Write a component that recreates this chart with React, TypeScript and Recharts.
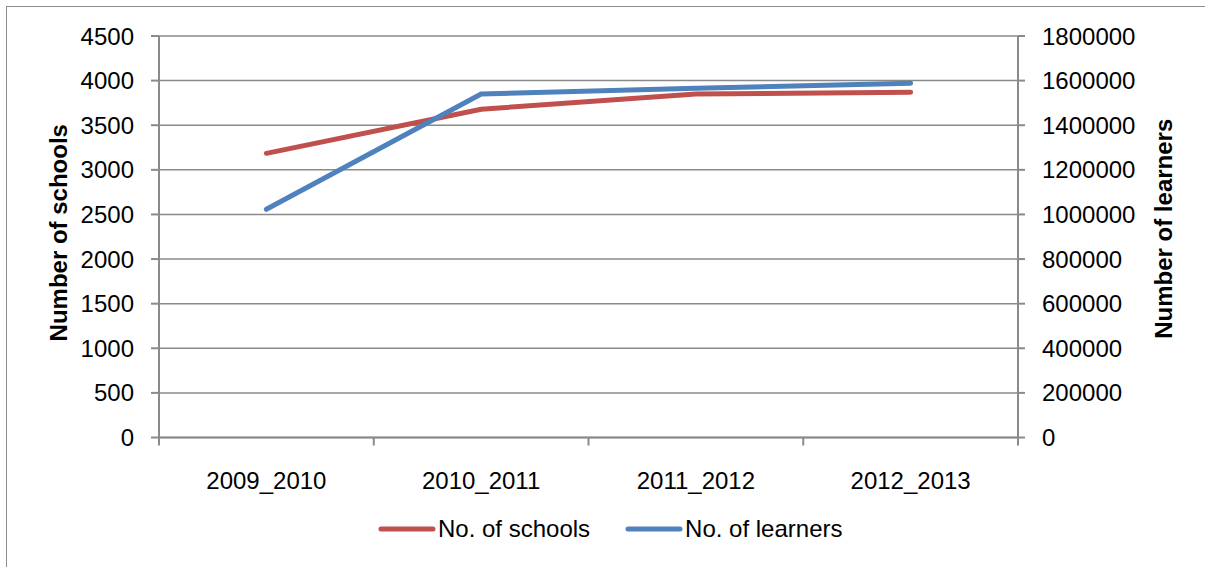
import React from 'react';
import { LineChart, Line, XAxis, YAxis, CartesianGrid, Legend } from 'recharts';

const categories = ['2009_2010', '2010_2011', '2011_2012', '2012_2013'];
const schools = [3185, 3679, 3850, 3869];
const learners = [1023000, 1540000, 1565500, 1588000];
const leftTicks = [0, 500, 1000, 1500, 2000, 2500, 3000, 3500, 4000, 4500];
const rightTicks = [0, 200000, 400000, 600000, 800000, 1000000, 1200000, 1400000, 1600000, 1800000];
const schoolsName = 'No. of schools';
const learnersName = 'No. of learners';
const legendOrder = [schoolsName, learnersName];
const leftTitle = 'Number of schools';
const rightTitle = 'Number of learners';

const data = categories.map((c, i) => ({ cat: c, schools: schools[i], learners: learners[i] }));

const W = 1205;
const H = 567;
const LEFT_W = 159;
const RIGHT_W = 187;
const PLOT_W = W - LEFT_W - RIGHT_W;
const BAND = PLOT_W / categories.length;
const FONT = '"Liberation Sans", Arial, sans-serif';
const GRAY = '#8a8a8a';
const RED = '#C0504D';
const BLUE = '#4F81BD';

const XTick = (props: any) => {
  const { x, y, payload, index } = props;
  const isLast = index === categories.length - 1;
  return (
    <g>
      <line x1={x - BAND / 2} x2={x - BAND / 2} y1={y} y2={y + 8} stroke={GRAY} strokeWidth={2} />
      {isLast && <line x1={x + BAND / 2} x2={x + BAND / 2} y1={y} y2={y + 8} stroke={GRAY} strokeWidth={2} />}
      <text x={x} y={y + 51} textAnchor="middle" fill="#000" fontSize={24} fontFamily={FONT}>
        {payload.value}
      </text>
    </g>
  );
};

const LegendContent = (props: any) => {
  const payload = [...(props.payload || [])].sort(
    (a: any, b: any) => legendOrder.indexOf(a.value) - legendOrder.indexOf(b.value)
  );
  return (
    <div style={{ display: 'flex', alignItems: 'center', paddingLeft: 378, height: 40, fontFamily: FONT, fontSize: 24, color: '#000' }}>
      {payload.map((p: any, i: number) => (
        <div key={i} style={{ display: 'flex', alignItems: 'center', marginRight: 35 }}>
          <svg width={58} height={10} style={{ display: 'block', marginRight: 2 }}>
            <line x1={3} x2={55} y1={5} y2={5} stroke={p.color} strokeWidth={5} strokeLinecap="round" />
          </svg>
          <span style={{ lineHeight: '40px' }}>{p.value}</span>
        </div>
      ))}
    </div>
  );
};

export default function App() {
  return (
    <div style={{ position: 'absolute', left: 0, top: 0, width: W, height: H, background: '#fff' }}>
      <div style={{ position: 'absolute', left: 6, top: 6, width: W - 6, height: H - 6, borderLeft: '1px solid #8c8c8c', borderTop: '1px solid #8c8c8c', boxSizing: 'border-box' }} />
      <div style={{ position: 'absolute', left: 0, top: 0 }}>
        <LineChart width={W} height={H} data={data} margin={{ top: 36, right: 0, bottom: 29.5, left: 0 }}>
          <CartesianGrid yAxisId="left" vertical={false} stroke={GRAY} strokeWidth={1.5} />
          <XAxis
            dataKey="cat"
            height={60}
            padding={{ left: BAND / 2, right: BAND / 2 }}
            tickLine={false}
            tickSize={0}
            tickMargin={0}
            axisLine={{ stroke: GRAY, strokeWidth: 2 }}
            tick={<XTick />}
            interval={0}
          />
          <YAxis
            yAxisId="left"
            width={LEFT_W}
            domain={[0, 4500]}
            ticks={leftTicks}
            interval={0}
            tickSize={8}
            tickMargin={17}
            axisLine={{ stroke: GRAY, strokeWidth: 2 }}
            tickLine={{ stroke: GRAY, strokeWidth: 2 }}
            tick={{ fill: '#000', fontSize: 24, fontFamily: FONT }}
            label={{
              content: (p: any) => {
                const vb = p.viewBox;
                const cy = vb.y + vb.height / 2 - 4;
                return (
                  <text x={58} y={cy} transform={`rotate(-90, 58, ${cy})`} textAnchor="middle" dominantBaseline="central" fontSize={24} fontWeight="bold" fontFamily={FONT} fill="#000">
                    {leftTitle}
                  </text>
                );
              },
            }}
          />
          <YAxis
            yAxisId="right"
            orientation="right"
            width={RIGHT_W}
            domain={[0, 1800000]}
            ticks={rightTicks}
            interval={0}
            tickSize={7}
            tickMargin={17}
            axisLine={{ stroke: GRAY, strokeWidth: 2 }}
            tickLine={{ stroke: GRAY, strokeWidth: 2 }}
            tick={{ fill: '#000', fontSize: 24, fontFamily: FONT }}
            label={{
              content: (p: any) => {
                const vb = p.viewBox;
                const cy = vb.y + vb.height / 2 - 8;
                return (
                  <text x={1163} y={cy} transform={`rotate(-90, 1163, ${cy})`} textAnchor="middle" dominantBaseline="central" fontSize={24} fontWeight="bold" fontFamily={FONT} fill="#000">
                    {rightTitle}
                  </text>
                );
              },
            }}
          />
          <Legend
            verticalAlign="bottom"
            content={<LegendContent />}
            wrapperStyle={{ left: 0, width: W, top: 509, bottom: 'auto', height: 40 }}
          />
          <Line yAxisId="left" type="linear" dataKey="schools" name={schoolsName} stroke={RED} strokeWidth={5} strokeLinecap="round" dot={false} activeDot={false} isAnimationActive={false} />
          <Line yAxisId="right" type="linear" dataKey="learners" name={learnersName} stroke={BLUE} strokeWidth={5} strokeLinecap="round" dot={false} activeDot={false} isAnimationActive={false} />
        </LineChart>
      </div>
    </div>
  );
}
